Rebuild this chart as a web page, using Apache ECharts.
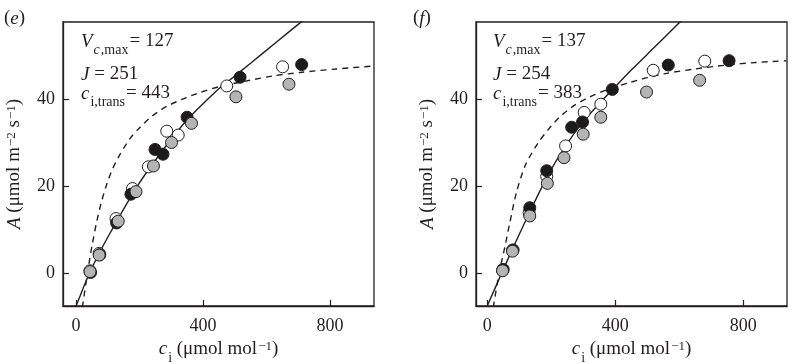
<!DOCTYPE html>
<html>
<head>
<meta charset="utf-8">
<script src="https://cdn.jsdelivr.net/npm/echarts@6/dist/echarts.min.js"></script>
<style>html,body{margin:0;padding:0;background:#fff;}#c{width:800px;height:364px;}</style>
</head>
<body>
<div id="c"></div>
<script>
// ---- tick labels ----
const ciTicks = [0, 400, 800];
const aTicks = [0, 20, 40];

// ---- panel (e) ----
const eOpen  = [[44,0.6],[73,4.6],[126,12.6],[178,19.5],[228,24.5],[286,32.7],[322,31.8],[475,43.1],[651,47.5]];
const eBlack = [[46,0.2],[75,4.3],[128,11.6],[173,18.2],[249,28.5],[274,27.4],[350,35.9],[517,45.1],[711,48.0]];
const eGrey  = [[44,0.4],[73,4.2],[133,12.0],[189,18.8],[244,24.7],[301,30.1],[364,34.5],[504,40.6],[671,43.5]];
const eSolid = [[-3,-8.0],[0,-7.5],[44,0.3],[100,8.3],[191,19.8],[265,27.5],[349,35.2],[443,42.0],[475,43.9],[550,48.3],[630,53.1],[706,57.6],[720,58.4]];
const eDashed = [[20,-7.8],[36,0],[50,6.2],[65,11.8],[80,16.4],[95,20.1],[115,24.0],[139,27.4],[170,31.0],[202,33.6],[240,36.2],[286,38.4],[340,40.2],[391,41.6],[460,43.1],[548,44.4],[620,45.4],[706,46.2],[820,47.0],[940,47.7]];
const eParams = ['127', '251', '443'];

// ---- panel (f) ----
const fOpen  = [[48,0.7],[79,5.3],[131,14.0],[186,22.3],[245,29.3],[303,37.0],[355,38.9],[519,46.7],[680,48.8]];
const fBlack = [[50,0.9],[81,5.4],[133,15.1],[186,23.6],[264,33.6],[298,34.8],[391,42.3],[566,47.9],[756,48.9]];
const fGrey  = [[48,0.6],[79,5.1],[133,13.2],[188,20.7],[240,26.6],[300,32.0],[355,35.9],[498,41.7],[664,44.4]];
const fSolid = [[-3,-8.0],[0,-7.5],[48,0.5],[79,5.6],[133,14.1],[188,22.3],[245,29.3],[300,34.9],[355,39.4],[391,42.2],[451,46.8],[520,51.8],[597,57.4],[610,58.3]];
const fDashed = [[19,-7.8],[37,0],[55,6.0],[70,11.4],[92,18.8],[120,25.0],[159,30.0],[190,33.0],[227,36.0],[270,38.5],[316,40.4],[380,42.4],[441,43.8],[500,45.0],[561,46.0],[650,47.0],[748,47.9],[840,48.5],[935,48.9]];
const fParams = ['137', '254', '383'];

const INK = '#231f20';
const SERIF = '"Liberation Serif","DejaVu Serif",serif';

const richBase = {
  n:   {fontFamily: SERIF, fontSize: 19, lineHeight: 23, verticalAlign: 'top', color: INK, fill: INK},
  i:   {fontFamily: SERIF, fontSize: 19, lineHeight: 23, verticalAlign: 'top', fontStyle: 'italic', color: INK, fill: INK},
  sub: {fontFamily: SERIF, fontSize: 14, lineHeight: 14, verticalAlign: 'top', padding: [11,0,0,1], color: INK, fill: INK},
  sup: {fontFamily: SERIF, fontSize: 13, lineHeight: 13, verticalAlign: 'top', padding: [0,0,0,1], color: INK, fill: INK}
};
const richAnn = {
  n:   {fontFamily: SERIF, fontSize: 19, lineHeight: 22, verticalAlign: 'top', fill: INK},
  i:   {fontFamily: SERIF, fontSize: 19, lineHeight: 22, verticalAlign: 'top', fontStyle: 'italic', fill: INK},
  sub: {fontFamily: SERIF, fontSize: 14, lineHeight: 14, verticalAlign: 'top', padding: [11,1,0,1], fill: INK},
  subi:{fontFamily: SERIF, fontSize: 14, lineHeight: 14, verticalAlign: 'top', padding: [11,0,0,1], fontStyle: 'italic', fill: INK}
};

const grids = [
  {left: 63, top: 22, width: 311, height: 284, show: true, borderColor: INK, borderWidth: 1.3, backgroundColor: 'transparent', outerBoundsMode: 'none', containLabel: false},
  {left: 476, top: 22, width: 311, height: 284, show: true, borderColor: INK, borderWidth: 1.3, backgroundColor: 'transparent', outerBoundsMode: 'none', containLabel: false}
];
const xRanges = [[-41, 939], [-35, 937]];

function xAxis(idx) {
  return {
    type: 'value', gridIndex: idx, min: xRanges[idx][0], max: xRanges[idx][1],
    axisLine: {show: true, onZero: false, lineStyle: {color: INK, width: 1.3}},
    axisTick: {show: true, inside: true, length: 6, customValues: ciTicks, lineStyle: {color: INK, width: 1.2}},
    axisLabel: {show: true, customValues: ciTicks, margin: 11, fontFamily: SERIF, fontSize: 18, color: INK},
    splitLine: {show: false},
    name: '{i|c}{sub|i}{n| (μmol mol}{sup|−1}{n|)}',
    nameLocation: 'middle', nameGap: 33,
    nameTextStyle: {rich: richBase}
  };
}
function yAxis(idx) {
  return {
    type: 'value', gridIndex: idx, min: -7.5, max: 57.8,
    axisLine: {show: true, onZero: false, lineStyle: {color: INK, width: 1.3}},
    axisTick: {show: true, inside: true, length: 6, customValues: aTicks, lineStyle: {color: INK, width: 1.2}},
    axisLabel: {show: true, customValues: aTicks, margin: 8, fontFamily: SERIF, fontSize: 18, color: INK},
    splitLine: {show: false},
    name: '{i|A}{n| (μmol m}{sup|−2}{n| s}{sup|−1}{n|)}',
    nameLocation: 'middle', nameGap: 35, nameRotate: 90,
    nameTextStyle: {rich: richBase}
  };
}

function lineSeries(data, idx, dashed) {
  return {
    type: 'line', xAxisIndex: idx, yAxisIndex: idx, data: data,
    showSymbol: false, smooth: 0.25, clip: true, z: 2,
    lineStyle: {color: INK, width: 1.4, type: dashed ? [6, 5] : 'solid'},
    silent: true
  };
}
function scatterSeries(data, idx, fill, z) {
  return {
    type: 'scatter', xAxisIndex: idx, yAxisIndex: idx, data: data,
    symbol: 'circle', symbolSize: 12, z: z,
    itemStyle: {color: fill, borderColor: INK, borderWidth: 1, opacity: 1}
  };
}

function annotations(x0, params, label, lx) {
  return [
    {type: 'text', x: lx, y: 9, style: {text: '{n|(}{i|' + label + '}{n|)}', rich: richAnn, verticalAlign: 'top', textVerticalAlign: 'top'}},
    {type: 'text', x: x0, y: 32, style: {text: '{i|V}{subi|c}{sub|,max}{n|= ' + params[0] + '}', rich: richAnn, verticalAlign: 'top', textVerticalAlign: 'top'}},
    {type: 'text', x: x0, y: 65, style: {text: '{i|J}{n| = ' + params[1] + '}', rich: richAnn, verticalAlign: 'top', textVerticalAlign: 'top'}},
    {type: 'text', x: x0, y: 84, style: {text: '{i|c}{sub|i,trans}{n|= ' + params[2] + '}', rich: richAnn, verticalAlign: 'top', textVerticalAlign: 'top'}}
  ];
}

const chart = echarts.init(document.getElementById('c'), null, {renderer: 'canvas'});
chart.setOption({
  animation: false,
  backgroundColor: '#fff',
  grid: grids,
  xAxis: [xAxis(0), xAxis(1)],
  yAxis: [yAxis(0), yAxis(1)],
  series: [
    lineSeries(eSolid, 0, false), lineSeries(eDashed, 0, true),
    scatterSeries(eOpen, 0, '#ffffff', 3), scatterSeries(eBlack, 0, '#1c1a1b', 4), scatterSeries(eGrey, 0, '#b4b4b4', 5),
    lineSeries(fSolid, 1, false), lineSeries(fDashed, 1, true),
    scatterSeries(fOpen, 1, '#ffffff', 3), scatterSeries(fBlack, 1, '#1c1a1b', 4), scatterSeries(fGrey, 1, '#b4b4b4', 5)
  ],
  graphic: annotations(81, eParams, 'e', 4).concat(annotations(493, fParams, 'f', 413))
});
</script>
</body>
</html>
